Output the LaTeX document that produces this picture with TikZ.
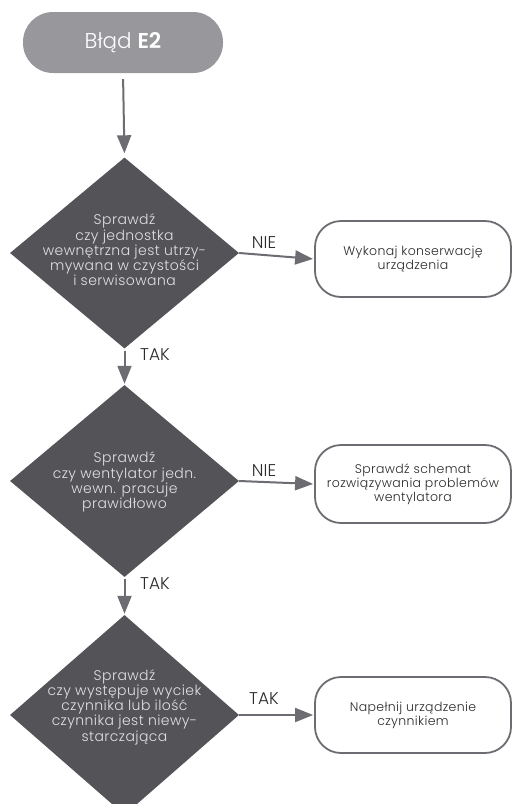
\documentclass[tikz,border=0pt]{standalone}
\usepackage{fontspec}
\setmainfont{Poppins}[UprightFont={* Light},BoldFont={* SemiBold}]
\newfontfamily\wfont{Poppins}[UprightFont={* Light},BoldFont={* SemiBold},LetterSpace=3]
\usetikzlibrary{shapes.geometric,arrows.meta}
\definecolor{diafill}{HTML}{545358}
\definecolor{startfill}{HTML}{98979C}
\definecolor{linegray}{HTML}{6D6C72}
\definecolor{txtdark}{HTML}{2A2A2C}
\definecolor{txtlight}{HTML}{E2E2E4}
\tikzset{
  x=1pt,y=-1pt,
  startbox/.style={fill=startfill,draw=none,rounded corners=30pt,minimum width=200pt,minimum height=61pt,text=white,font=\fontsize{21.5}{24}\selectfont},
  diabox/.style={diamond,fill=diafill,draw=none,inner sep=0pt},
  diatext/.style={text=txtlight,align=center,inner sep=0pt,font=\wfont\fontsize{14}{13.9}\selectfont},
  endbox/.style={draw=linegray,line width=1.8pt,fill=white,rounded corners=26pt,minimum width=196pt,align=center,inner sep=0pt,text=txtdark,font=\wfont\fontsize{12.5}{14}\selectfont},
  arr/.style={draw=linegray,line width=2pt,-{Triangle[length=18pt,width=14pt]}},
  lbl/.style={text=txtdark,font=\fontsize{17}{18}\selectfont,inner sep=0pt}
}
\begin{document}
\begin{tikzpicture}
\useasboundingbox (0,0) rectangle (513,804);
\clip (0,0) rectangle (513,804);
\node[startbox] (st) at (123,42.5) {Błąd \textbf{E2}};
\node[diabox,minimum width=229pt,minimum height=191pt] (d1) at (124.5,253) {};
\node[diatext] (d1t) at (124.5,250) {Sprawdź\\czy jednostka\\wewnętrzna jest utrzy-\\mywana w czystości\\i serwisowana};
\node[diabox,minimum width=229pt,minimum height=192pt] (d2) at (124.5,481) {};
\node[diatext] (d2t) at (124.5,482) {Sprawdź\\czy wentylator jedn.\\wewn. pracuje\\prawidłowo};
\node[diabox,minimum width=229pt,minimum height=200pt] (d3) at (124.5,715) {};
\node[diatext] (d3t) at (124.5,707) {Sprawdź\\czy występuje wyciek\\czynnika lub ilość\\czynnika jest niewy-\\starczająca};
\node[endbox,minimum height=76pt] (b1) at (413,259) {Wykonaj konserwację\\urządzenia};
\node[endbox,minimum height=78pt] (b2) at (413,484) {Sprawdź schemat\\rozwiązywania problemów\\wentylatora};
\node[endbox,minimum height=76pt] (b3) at (413,715) {Napełnij urządzenie\\czynnikiem};
\draw[arr,shorten <=6pt,shorten >=4pt] (st.south) -- (d1.north);
\draw[arr,shorten <=2pt,shorten >=1pt] (d1.south) -- (d2.north);
\draw[arr,shorten <=2pt,shorten >=1pt] (d2.south) -- (d3.north);
\draw[arr,shorten >=1pt] (d1.east) -- (b1.west);
\draw[arr,shorten >=1pt] (d2.east) -- (b2.west);
\draw[arr,shorten >=1pt] (d3.east) -- (b3.west);
\node[lbl] (n1) at (264,243) {NIE};
\node[lbl] (n2) at (264,471) {NIE};
\node[lbl] (n3) at (264,699) {TAK};
\node[lbl] (t1) at (155,355) {TAK};
\node[lbl] (t2) at (155,584) {TAK};
\end{tikzpicture}
\end{document}
